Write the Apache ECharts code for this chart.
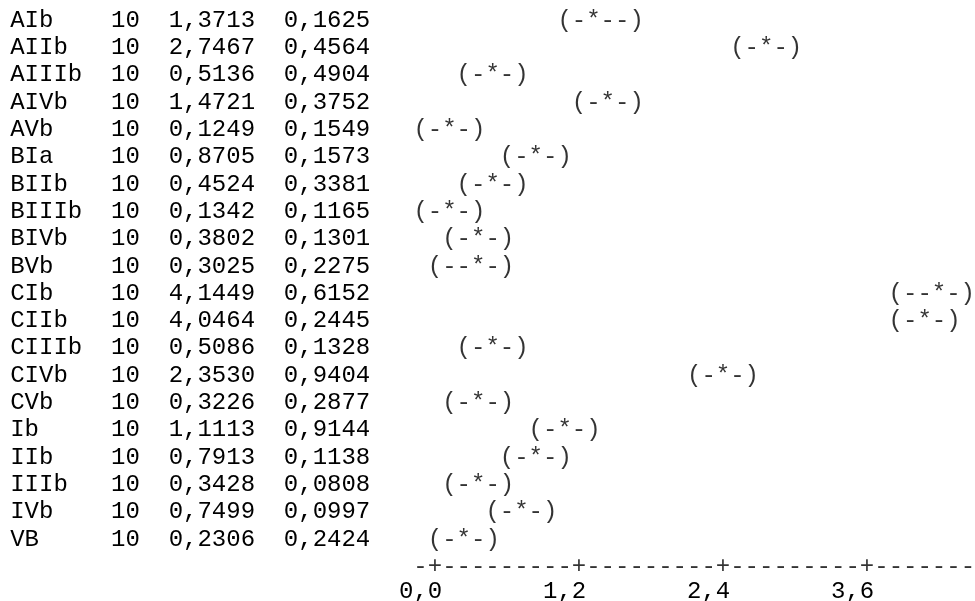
<!DOCTYPE html>
<html>
<head>
<meta charset="utf-8">
<title>Individual 95% CIs for Mean</title>
<script src="https://cdn.jsdelivr.net/npm/echarts@6/dist/echarts.min.js"></script>
<style>
  html, body { margin: 0; padding: 0; background: #ffffff; }
  #main { width: 975px; height: 601px; }
</style>
</head>
<body>
<div id="main"></div>
<script>
// Level summary table
const levels = ['AIb', 'AIIb', 'AIIIb', 'AIVb', 'AVb', 'BIa', 'BIIb', 'BIIIb', 'BIVb', 'BVb',
                'CIb', 'CIIb', 'CIIIb', 'CIVb', 'CVb', 'Ib', 'IIb', 'IIIb', 'IVb', 'VB'];
const counts = [10, 10, 10, 10, 10, 10, 10, 10, 10, 10, 10, 10, 10, 10, 10, 10, 10, 10, 10, 10];
const means = [1.3713, 2.7467, 0.5136, 1.4721, 0.1249, 0.8705, 0.4524, 0.1342, 0.3802, 0.3025,
               4.1449, 4.0464, 0.5086, 2.3530, 0.3226, 1.1113, 0.7913, 0.3428, 0.7499, 0.2306];
const stdevs = [0.1625, 0.4564, 0.4904, 0.3752, 0.1549, 0.1573, 0.3381, 0.1165, 0.1301, 0.2275,
                0.6152, 0.2445, 0.1328, 0.9404, 0.2877, 0.9144, 0.1138, 0.0808, 0.0997, 0.2424];
// Character-plot interval for each level ('*' marks the mean)
const intervalGlyphs = ['(-*--)', '(-*-)', '(-*-)', '(-*-)', '(-*-)', '(-*-)', '(-*-)', '(-*-)', '(-*-)', '(--*-)',
                        '(--*-)', '(-*-)', '(-*-)', '(-*-)', '(-*-)', '(-*-)', '(-*-)', '(-*-)', '(-*-)', '(-*-)'];
// Scale ticks
const xTicks = [0, 1.2, 2.4, 3.6];
const tickStep = 1.2;
const cellsPerTick = 10;

// Text-mode layout
const FONT = 'Liberation Mono';
const FS = 24;
const CH = FS * 0.6;          // monospace cell width
const ROW = 27.3;             // line pitch
const CELL = tickStep / cellsPerTick;   // scale units per character cell
const RULE_FIRST = -1, RULE_LAST = 37; // rule cells relative to the 0 tick

const dec = (v, d) => v.toFixed(d).replace('.', ',');
const snap = v => Math.round(v / CELL) * CELL;

const rowText = i => levels[i].padEnd(7, ' ') + String(counts[i]) + '  ' + dec(means[i], 4) + '  ' + dec(stdevs[i], 4);

// Horizontal shift so that character k of a centred string lands on the anchor point
const anchorOffset = (str, k) => [(str.length / 2 - k - 0.5) * CH, 0];

let rule = '';
for (let c = RULE_FIRST; c <= RULE_LAST; c++) {
  const onTick = c >= 0 && c % cellsPerTick === 0 && (c / cellsPerTick) < xTicks.length;
  rule += onTick ? '+' : '-';
}

const textStyle = { fontFamily: FONT, fontSize: FS, color: '#000000', lineHeight: FS };

const intervalData = levels.map((lv, i) => {
  const g = intervalGlyphs[i];
  return {
    value: [snap(means[i]), i],
    label: { formatter: g, offset: anchorOffset(g, g.indexOf('*')) }
  };
});

const ruleData = [{
  value: [xTicks[0], levels.length],
  label: { formatter: rule, offset: anchorOffset(rule, -RULE_FIRST) }
}];

const gridTop = 6.85;
const nRows = levels.length + 1;
const gridBottom = 601 - (gridTop + nRows * ROW);
const zeroX = 10.2 + 29.5 * CH;

const chart = echarts.init(document.getElementById('main'), null, { renderer: 'canvas' });
chart.setOption({
  animation: false,
  backgroundColor: '#ffffff',
  grid: {
    left: zeroX, right: 0, top: gridTop, bottom: gridBottom,
    containLabel: false, outerBoundsMode: 'none'
  },
  xAxis: {
    type: 'value',
    min: 0,
    max: 4.5,
    interval: tickStep,
    axisLine: { show: false },
    axisTick: { show: false },
    splitLine: { show: false },
    axisLabel: Object.assign({}, textStyle, {
      margin: -1,
      showMaxLabel: false,
      padding: [0, 2 * CH, 0, 0],
      formatter: v => (xTicks.some(t => Math.abs(t - v) < 1e-6) ? dec(v, 1) : '')
    })
  },
  yAxis: {
    type: 'category',
    inverse: true,
    data: levels.concat(['']),
    axisLine: { show: false },
    axisTick: { show: false },
    splitLine: { show: false },
    axisLabel: Object.assign({}, textStyle, {
      interval: 0,
      align: 'left',
      margin: zeroX - 10.2,
      formatter: (v, i) => (i < levels.length ? rowText(i) : '')
    })
  },
  series: [
    {
      name: 'intervals',
      type: 'scatter',
      symbolSize: 1,
      clip: false,
      itemStyle: { color: 'rgba(0,0,0,0)' },
      label: Object.assign({}, textStyle, { show: true, position: 'inside', align: 'center', verticalAlign: 'middle' }),
      data: intervalData
    },
    {
      name: 'scale',
      type: 'scatter',
      symbolSize: 1,
      clip: false,
      itemStyle: { color: 'rgba(0,0,0,0)' },
      label: Object.assign({}, textStyle, { show: true, position: 'inside', align: 'center', verticalAlign: 'middle' }),
      data: ruleData
    }
  ]
});
</script>
</body>
</html>
